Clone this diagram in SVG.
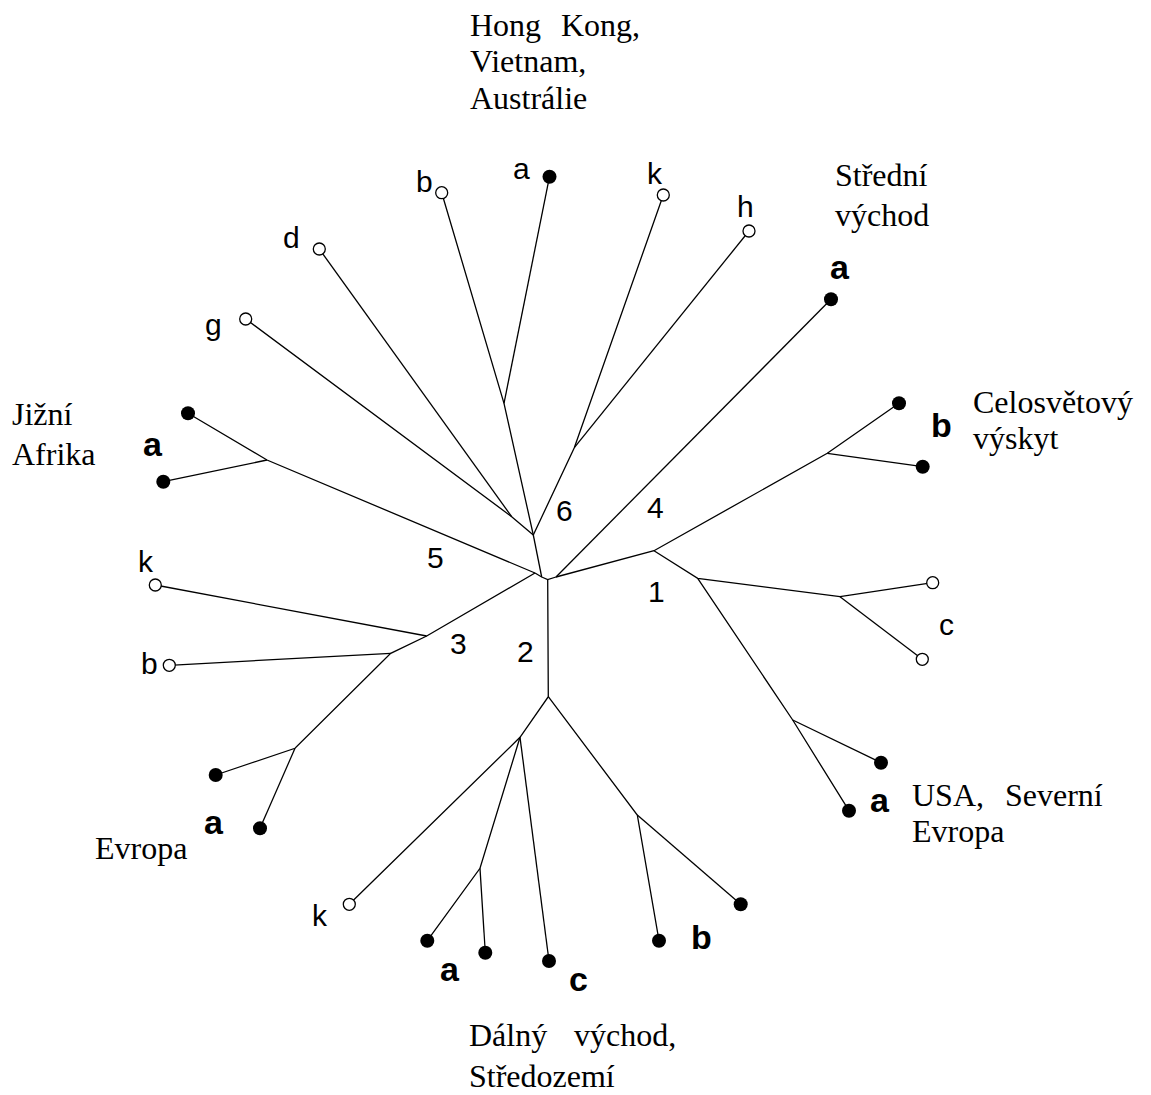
<svg xmlns="http://www.w3.org/2000/svg" width="1151" height="1095" viewBox="0 0 1151 1095">
<style>
.e{fill:none;stroke:#000;stroke-width:1.3;stroke-linejoin:miter}
.f{fill:#000}
.o{fill:#fff;stroke:#000;stroke-width:1.3}
.l{font-family:"Liberation Sans",Arial,sans-serif;font-size:30px;fill:#000}
.b{font-family:"Liberation Sans",Arial,sans-serif;font-size:34px;font-weight:bold;fill:#000}
.r{font-family:"Liberation Serif","Times New Roman",serif;font-size:32px;fill:#000}
</style>
<rect width="1151" height="1095" fill="#fff"/>
<g id="connectors">
<polyline class="e" points="535,573 541.7,577 547.7,579.5 556,577"/>
<polyline class="e" points="541.7,577 533.3,535"/>
<polyline class="e" points="533.3,535 504,403.3 441.7,192.7"/>
<polyline class="e" points="504,403.3 549.5,176.7"/>
<polyline class="e" points="533.3,535 574.3,447.7 663.3,195"/>
<polyline class="e" points="574.3,447.7 749,231"/>
<polyline class="e" points="533.3,535 511.7,516.7 245.7,319"/>
<polyline class="e" points="511.7,516.7 319.3,249"/>
<polyline class="e" points="535,573 267,460 188,413.3"/>
<polyline class="e" points="267,460 163.3,481.7"/>
<polyline class="e" points="535,573 426.7,636 390.7,653.3 295,748.3 215.7,775"/>
<polyline class="e" points="426.7,636 155.3,585"/>
<polyline class="e" points="390.7,653.3 169.3,665.3"/>
<polyline class="e" points="295,748.3 260,828.3"/>
<polyline class="e" points="547.7,579.5 548.3,696.7 520,737.3 349.3,904.3"/>
<polyline class="e" points="520,737.3 549,961"/>
<polyline class="e" points="520,737.3 480,868.3 427.3,940.7"/>
<polyline class="e" points="480,868.3 485.3,952.7"/>
<polyline class="e" points="548.3,696.7 637.3,815 659,940.7"/>
<polyline class="e" points="637.3,815 740.7,904.3"/>
<polyline class="e" points="556,577 831,299.3"/>
<polyline class="e" points="556,577 654,550.7 827.3,453.3 899,403.3"/>
<polyline class="e" points="827.3,453.3 922.7,466.7"/>
<polyline class="e" points="654,550.7 697.7,578.3 840,596.7 932.7,582.7"/>
<polyline class="e" points="840,596.7 922.3,659.3"/>
<polyline class="e" points="697.7,578.3 792.7,720 849,810.7"/>
<polyline class="e" points="792.7,720 881,762.7"/>
</g>
<g id="branch-labels">
<text class="l" x="556" y="521">6</text>
<text class="l" x="647" y="518">4</text>
<text class="l" x="427" y="568">5</text>
<text class="l" x="648" y="602">1</text>
<text class="l" x="450" y="654">3</text>
<text class="l" x="517" y="662">2</text>
</g>
<g id="node-top-b"><circle class="o" cx="441.7" cy="192.7" r="6"/><text class="l" x="416" y="192">b</text></g>
<g id="node-top-a"><circle class="f" cx="549.5" cy="176.7" r="7"/><text class="l" x="513" y="179">a</text></g>
<g id="node-top-k"><circle class="o" cx="663.3" cy="195" r="6"/><text class="l" x="647" y="184">k</text></g>
<g id="node-top-h"><circle class="o" cx="749" cy="231" r="6"/><text class="l" x="737" y="217">h</text></g>
<g id="node-d"><circle class="o" cx="319.3" cy="249" r="6"/><text class="l" x="283" y="248">d</text></g>
<g id="node-g"><circle class="o" cx="245.7" cy="319" r="6"/><text class="l" x="205" y="335">g</text></g>
<g id="node-hongkong"><text class="r" x="470" y="36">Hong</text><text class="r" x="561" y="36">Kong,</text><text class="r" x="470" y="72">Vietnam,</text><text class="r" x="470" y="109">Austrálie</text></g>
<g id="node-stredni-vychod"><circle class="f" cx="831" cy="299.3" r="7"/><text class="b" x="830" y="279">a</text><text class="r" x="835" y="186">Střední</text><text class="r" x="835" y="226">východ</text></g>
<g id="node-celosvetovy"><circle class="f" cx="899" cy="403.3" r="7"/><circle class="f" cx="922.7" cy="466.7" r="7"/><text class="b" x="931" y="437">b</text><text class="r" x="973" y="413">Celosvětový</text><text class="r" x="973" y="449">výskyt</text></g>
<g id="node-c-right"><circle class="o" cx="932.7" cy="582.7" r="6"/><circle class="o" cx="922.3" cy="659.3" r="6"/><text class="l" x="939" y="635">c</text></g>
<g id="node-usa"><circle class="f" cx="881" cy="762.7" r="7"/><circle class="f" cx="849" cy="810.7" r="7"/><text class="b" x="870" y="812">a</text><text class="r" x="912" y="806">USA,</text><text class="r" x="1005" y="806">Severní</text><text class="r" x="912" y="842">Evropa</text></g>
<g id="node-jizni-afrika"><circle class="f" cx="188" cy="413.3" r="7"/><circle class="f" cx="163.3" cy="481.7" r="7"/><text class="b" x="143" y="456">a</text><text class="r" x="12" y="425">Jižní</text><text class="r" x="12" y="465">Afrika</text></g>
<g id="node-left-k"><circle class="o" cx="155.3" cy="585" r="6"/><text class="l" x="138" y="572">k</text></g>
<g id="node-left-b"><circle class="o" cx="169.3" cy="665.3" r="6"/><text class="l" x="141" y="674">b</text></g>
<g id="node-evropa"><circle class="f" cx="215.7" cy="775" r="7"/><circle class="f" cx="260" cy="828.3" r="7"/><text class="b" x="204" y="834">a</text><text class="r" x="95" y="859">Evropa</text></g>
<g id="node-bottom-k"><circle class="o" cx="349.3" cy="904.3" r="6"/><text class="l" x="312" y="926">k</text></g>
<g id="node-bottom-a"><circle class="f" cx="427.3" cy="940.7" r="7"/><circle class="f" cx="485.3" cy="952.7" r="7"/><text class="b" x="440" y="981">a</text></g>
<g id="node-bottom-c"><circle class="f" cx="549" cy="961" r="7"/><text class="b" x="569" y="991">c</text></g>
<g id="node-bottom-b"><circle class="f" cx="659" cy="940.7" r="7"/><circle class="f" cx="740.7" cy="904.3" r="7"/><text class="b" x="691" y="949">b</text></g>
<g id="node-dalny-vychod"><text class="r" x="469" y="1046">Dálný</text><text class="r" x="574" y="1046">východ,</text><text class="r" x="469" y="1087">Středozemí</text></g>
</svg>
